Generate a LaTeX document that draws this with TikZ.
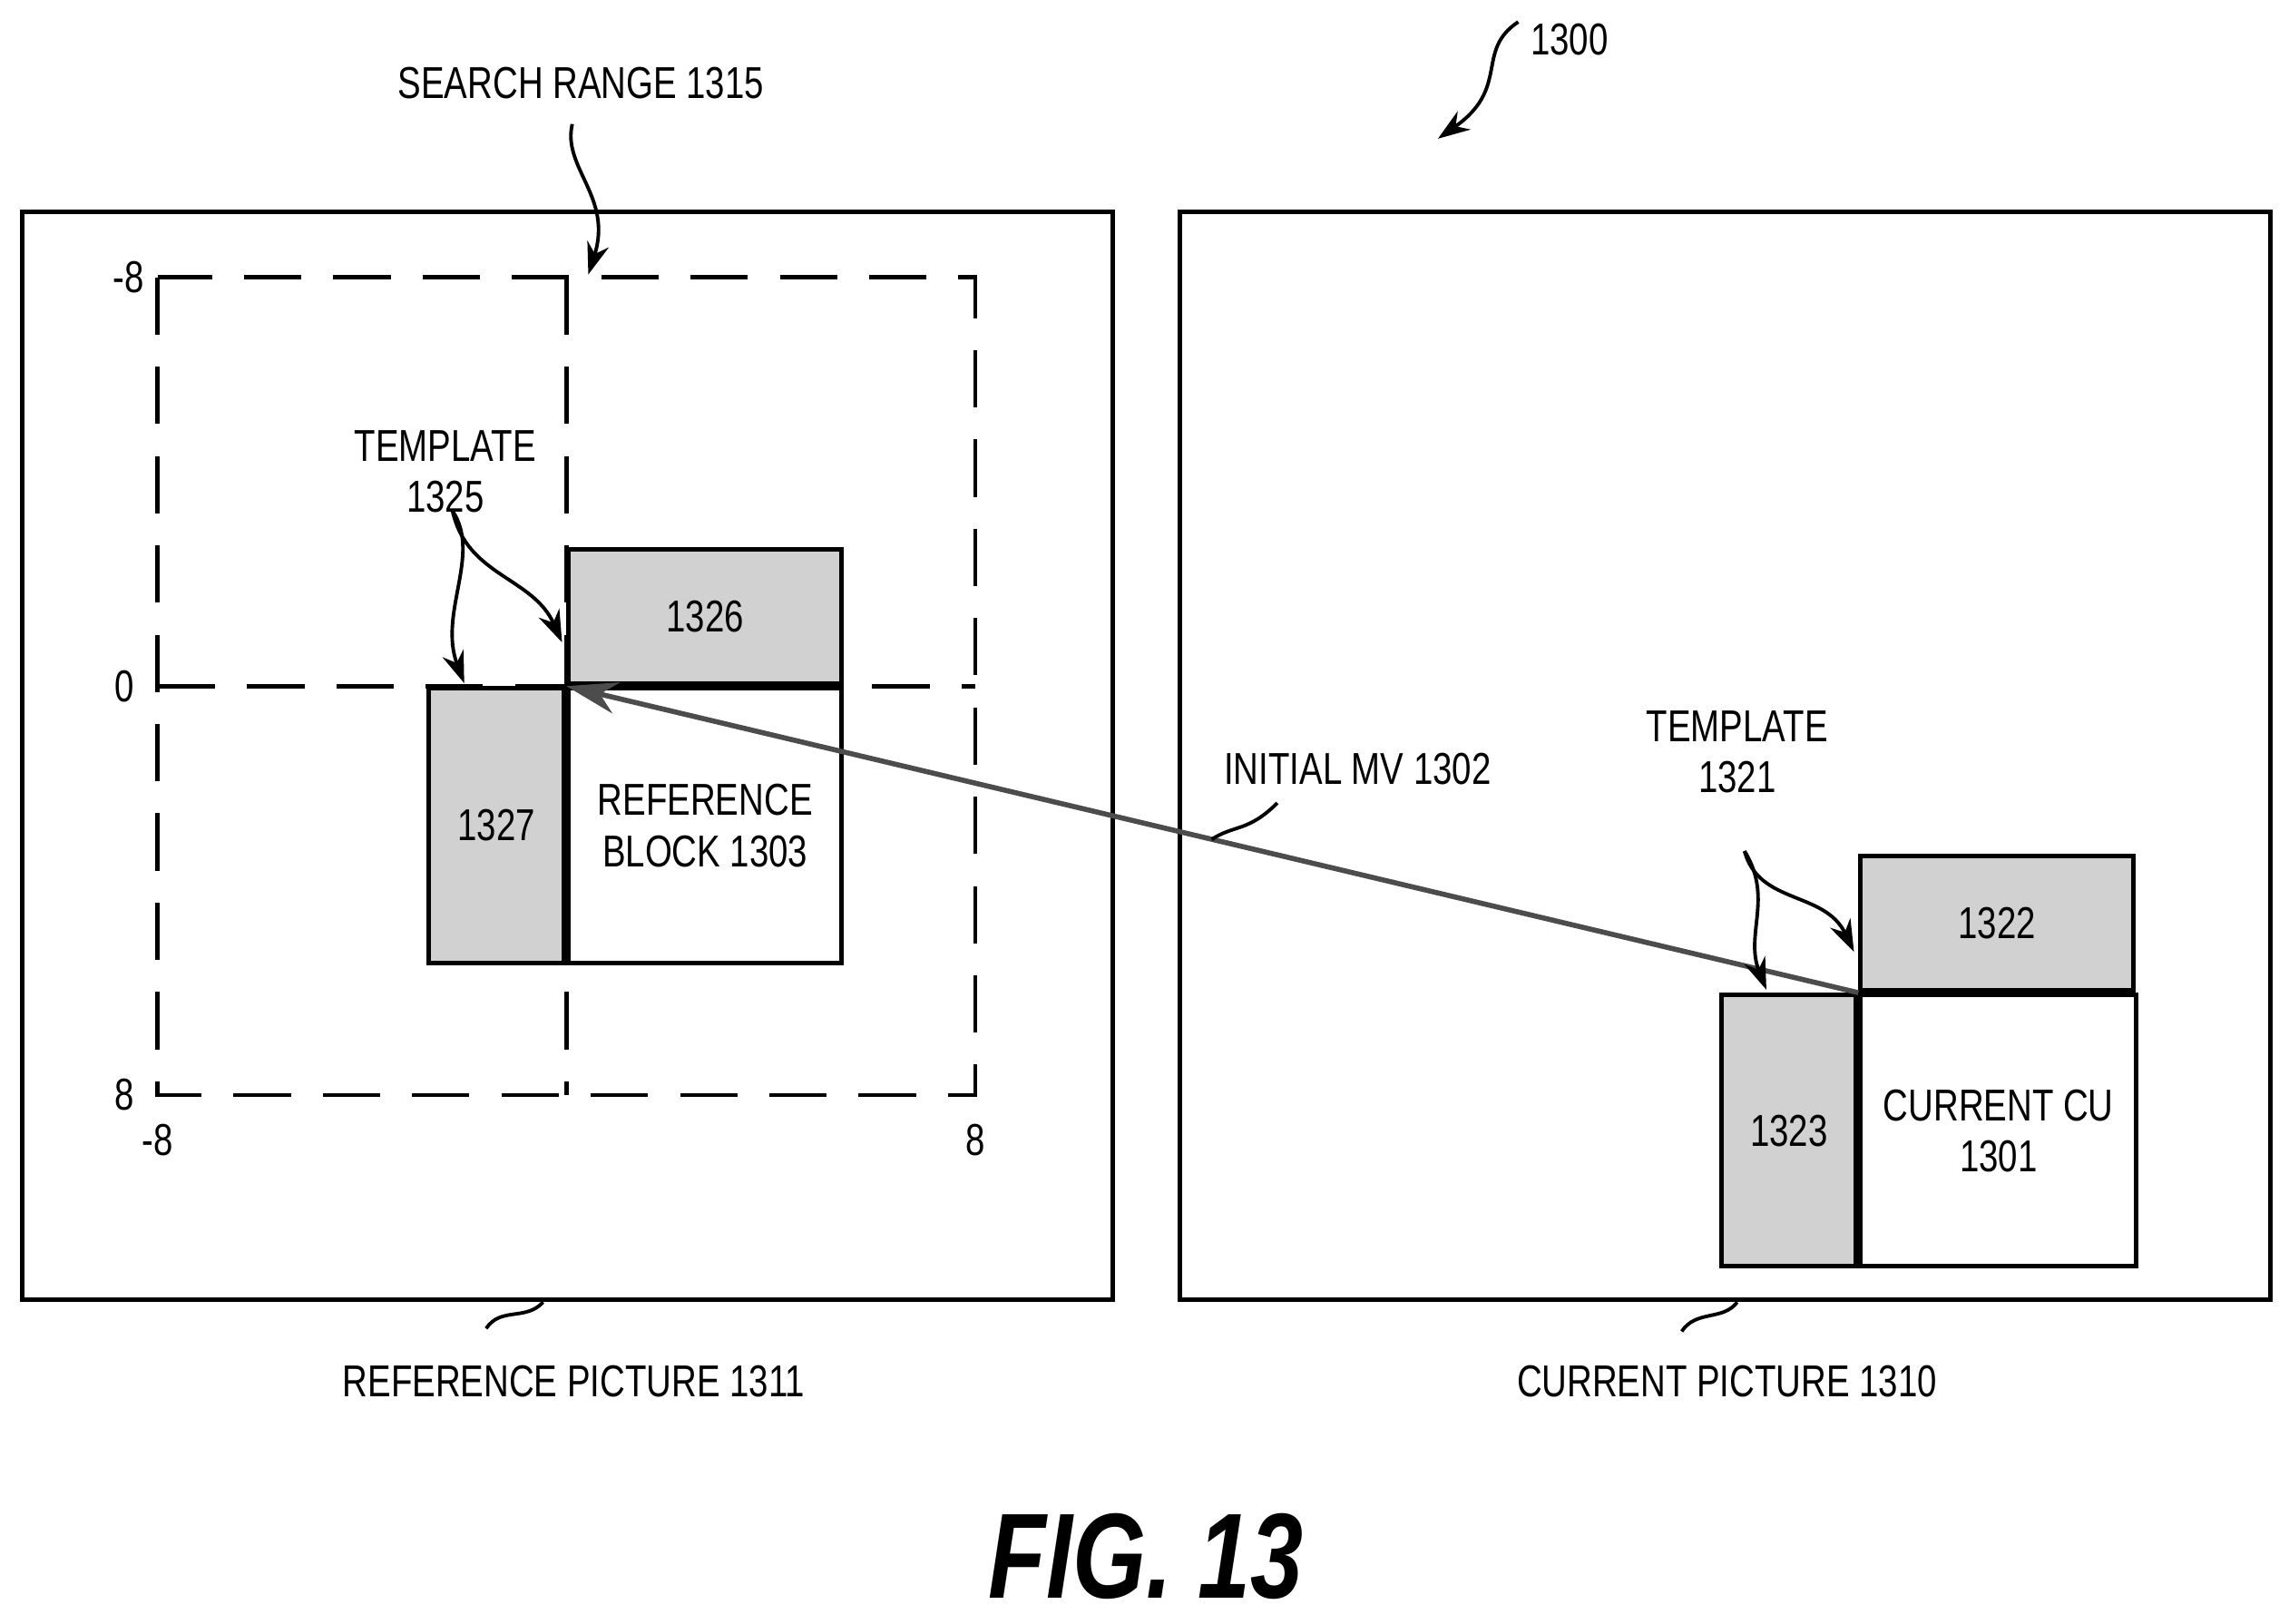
\documentclass[tikz,border=0pt]{standalone}
\usepackage{fontspec}
\setmainfont{Liberation Sans}[FakeStretch=0.78]
\usetikzlibrary{arrows.meta}
\begin{document}
\begin{tikzpicture}[x=0.01609cm, y=-0.01609cm, line width=1.4pt,
  every node/.style={font=\fontsize{14}{16}\selectfont},
  frame/.style={draw=black},
  tmpl/.style={draw=black, fill=black!18},
  srch/.style={dash pattern=on 18pt off 10pt, line width=1.3pt},
  lead/.style={-{Stealth[length=10pt,width=7pt]}, line width=1.1pt},
  tilde/.style={line width=1.1pt}]

\useasboundingbox (0,0) rectangle (1568,1112);

% frames
\draw[frame] (15,145) rectangle (762,890);
\draw[frame] (808,145) rectangle (1555,890);

% search range
\draw[srch] (108,190) rectangle (668,750);
\draw[srch] (388,190) -- (388,750);
\draw[srch] (108,470) -- (668,470);
\node at (88,190) {-8};
\node at (85,470) {0};
\node at (85,750) {8};
\node at (108,781) {-8};
\node at (668,781) {8};

% reference block and template
\node[tmpl, minimum width=187*0.01609cm, minimum height=92*0.01609cm, anchor=south west] (t1326) at (388,470) {1326};
\node[tmpl, minimum width=93*0.01609cm, minimum height=188*0.01609cm, anchor=north east] (t1327) at (388,470) {1327};
\node[frame, minimum width=187*0.01609cm, minimum height=188*0.01609cm, anchor=north west, align=center] (refblk) at (388,470) {REFERENCE\\BLOCK 1303};
\draw[line width=2.4pt] (t1327.north east) -- (t1327.south east);

% current CU and template
\node[tmpl, minimum width=187*0.01609cm, minimum height=92*0.01609cm, anchor=south west] (t1322) at (1273,680) {1322};
\node[tmpl, minimum width=92*0.01609cm, minimum height=186*0.01609cm, anchor=north east] (t1323) at (1273,680) {1323};
\node[frame, minimum width=189*0.01609cm, minimum height=186*0.01609cm, anchor=north west, align=center] (curcu) at (1273,680) {CURRENT CU\\1301};
\draw[line width=2.4pt] (t1323.north east) -- (t1323.south east);

% initial MV
\draw[-{Stealth[length=16pt,width=10pt]}, line width=1.6pt, black!70] (curcu.north west) -- (refblk.north west);
\node (mvlbl) at (930,527) {INITIAL MV 1302};
\draw[tilde] (830,575) .. controls (845,565) and (855,570) .. (875,550);

% template labels
\node[align=center] (lbl1325) at (305,323) {TEMPLATE\\1325};
\draw[lead] (310,350) .. controls (330,380) and (300,420) .. (318,468);
\draw[lead] (310,350) .. controls (320,395) and (365,395) .. (385,440);
\node[align=center] (lbl1321) at (1190,515) {TEMPLATE\\1321};
\draw[lead] (1195,583) .. controls (1215,615) and (1195,640) .. (1210,678);
\draw[lead] (1195,583) .. controls (1205,620) and (1250,610) .. (1270,652);

% search range label
\node (lbl1315) at (398,57) {SEARCH RANGE 1315};
\draw[lead] (392,85) .. controls (385,115) and (420,135) .. (403,188);

% picture labels
\node (lbl1311) at (393,946) {REFERENCE PICTURE 1311};
\draw[tilde] (333,910) .. controls (343,895) and (360,905) .. (372,892);
\node (lbl1310) at (1183,946) {CURRENT PICTURE 1310};
\draw[tilde] (1152,912) .. controls (1162,897) and (1180,905) .. (1190,892);

% figure number
\node (lbl1300) at (1075,27) {1300};
\draw[lead] (1040,15) .. controls (1010,35) and (1035,60) .. (985,95);
\node[font=\fontsize{38}{42}\selectfont\bfseries\itshape] (fig) at (785,1066) {FIG. 13};
\end{tikzpicture}
\end{document}
